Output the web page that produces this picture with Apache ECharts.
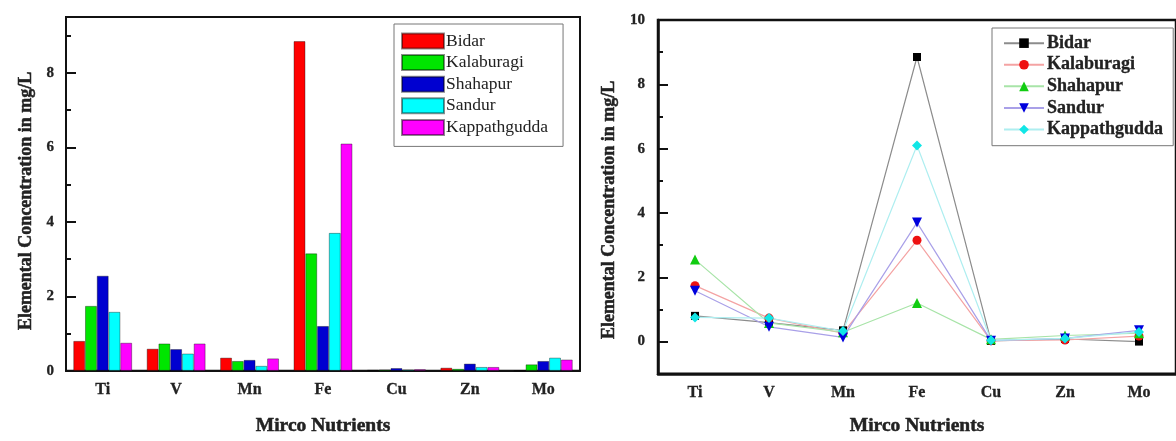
<!DOCTYPE html>
<html>
<head>
<meta charset="utf-8">
<script src="https://cdn.jsdelivr.net/npm/echarts@6/dist/echarts.min.js"></script>
<style>
  html, body { margin: 0; padding: 0; background: #fff; }
  #wrap { position: relative; width: 1176px; height: 441px; overflow: hidden; }
  #barChart { position: absolute; left: 0; top: 0; width: 590px; height: 441px; }
  #lineChart { position: absolute; left: 590px; top: 0; width: 586px; height: 441px; }
</style>
</head>
<body>
<div id="wrap">
  <div id="barChart"></div>
  <div id="lineChart"></div>
</div>
<script>
// micro nutrients (mg/L) per site
const nutrients = ['Ti', 'V', 'Mn', 'Fe', 'Cu', 'Zn', 'Mo']
const sites = ['Bidar', 'Kalaburagi', 'Shahapur', 'Sandur', 'Kappathgudda']
const bidar = [0.80, 0.59, 0.35, 8.85, 0.02, 0.08, 0.00]
const kalaburagi = [1.74, 0.73, 0.26, 3.15, 0.03, 0.05, 0.17]
const shahapur = [2.55, 0.58, 0.29, 1.20, 0.07, 0.19, 0.26]
const sandur = [1.58, 0.46, 0.13, 3.70, 0.03, 0.10, 0.35]
const kappathgudda = [0.75, 0.73, 0.33, 6.10, 0.04, 0.10, 0.30]

const leftMajor = [0, 2, 4, 6, 8]
const leftMinor = [1, 3, 5, 7, 9]
const rightMajor = [0, 2, 4, 6, 8, 10]
const rightMinor = [-1, 1, 3, 5, 7, 9]

const siteData = [bidar, kalaburagi, shahapur, sandur, kappathgudda]
const barColors = ['#ff0000', '#00e600', '#0000d0', '#00ffff', '#ff00ff']
const markColors = ['#000000', '#ee1111', '#11cc11', '#0000dd', '#11e6e6']
const lineColors = ['#8c8c8c', '#f4a3a3', '#a8e4a8', '#a9a0e8', '#aeeef0']
const markShapes = ['rect', 'circle', 'triangle', 'triangle', 'diamond']
const markRotate = [0, 0, 0, 180, 0]
const markSizes = [8, 9, 10, 10, 10]

const serif = '"Liberation Serif", "Times New Roman", serif'
// heavier bold like the scanned figure
const heavy = { fontFamily: serif, fontWeight: 'bold', color: '#222', textBorderColor: '#222', textBorderWidth: 0.5 }

// ---------- left: grouped bars ----------
const barChart = echarts.init(document.getElementById('barChart'))
barChart.setOption({
  animation: false,
  textStyle: { fontFamily: serif },
  grid: {
    left: 66, top: 17, right: 10, bottom: 67,
    show: true, borderColor: '#111', borderWidth: 2, backgroundColor: 'transparent'
  },
  legend: {
    left: 394, top: 24,
    orient: 'vertical',
    icon: 'rect',
    itemWidth: 42, itemHeight: 15, itemGap: 3.6,
    padding: [8, 15, 10, 7],
    borderColor: '#777', borderWidth: 1,
    textStyle: { fontFamily: serif, fontSize: 17.5, lineHeight: 18, color: '#222', padding: [0, 0, 0, -3] },
    data: sites
  },
  xAxis: {
    type: 'category',
    data: nutrients,
    boundaryGap: true,
    axisLine: { lineStyle: { color: '#111', width: 2 } },
    axisTick: { inside: true, length: 3, lineStyle: { color: '#111', width: 2 } },
    axisLabel: Object.assign({}, heavy, { fontSize: 16, margin: 11, textBorderWidth: 0.3 }),
    name: 'Mirco Nutrients',
    nameLocation: 'middle',
    nameGap: 45,
    nameTextStyle: Object.assign({}, heavy, { fontSize: 19.5 })
  },
  yAxis: [{
    type: 'value',
    min: 0, max: 9.5,
    axisLine: { show: true, lineStyle: { color: '#111', width: 2 } },
    axisTick: { show: true, inside: true, length: 10, customValues: leftMajor, lineStyle: { color: '#111', width: 2 } },
    axisLabel: Object.assign({}, heavy, { customValues: leftMajor, fontSize: 15, margin: 12, textBorderWidth: 0.3 }),
    splitLine: { show: false },
    name: 'Elemental Concentration in mg/L',
    nameLocation: 'middle',
    nameGap: 30,
    nameTextStyle: Object.assign({}, heavy, { fontSize: 18, padding: [0, 14, 0, 0] })
  }, {
    type: 'value',
    position: 'left',
    min: 0, max: 9.5,
    axisLine: { show: false },
    axisTick: { show: true, inside: true, length: 5, customValues: leftMinor, lineStyle: { color: '#111', width: 2 } },
    axisLabel: { show: false },
    splitLine: { show: false }
  }],
  series: sites.map((name, i) => ({
    name: name,
    type: 'bar',
    data: siteData[i],
    barGap: '0%',
    barCategoryGap: '20%',
    itemStyle: { color: barColors[i], borderColor: 'rgba(0,0,0,0.45)', borderWidth: 0.8 }
  }))
})

// ---------- right: point-line ----------
const lineChart = echarts.init(document.getElementById('lineChart'))
lineChart.setOption({
  animation: false,
  textStyle: { fontFamily: serif },
  grid: {
    left: 68, top: 20, right: -8, bottom: 62,
    show: true, borderColor: '#111', borderWidth: 2.5, backgroundColor: 'transparent'
  },
  legend: {
    left: 402, top: 28,
    orient: 'vertical',
    itemWidth: 40, itemHeight: 12, itemGap: 3.3,
    padding: [6, 10, 7, 11],
    borderColor: '#777', borderWidth: 1,
    textStyle: Object.assign({}, heavy, { fontSize: 18, lineHeight: 18, padding: [0, 0, 0, -2], textBorderWidth: 0.3 }),
    data: sites
  },
  xAxis: [{
    type: 'category',
    data: nutrients,
    boundaryGap: true,
    axisLine: { onZero: false, lineStyle: { color: '#111', width: 2.5 } },
    axisTick: { inside: true, alignWithLabel: true, length: 9, lineStyle: { color: '#111', width: 2 } },
    axisLabel: Object.assign({}, heavy, { fontSize: 16, margin: 11, textBorderWidth: 0.3 }),
    name: 'Mirco Nutrients',
    nameLocation: 'middle',
    nameGap: 42,
    nameTextStyle: Object.assign({}, heavy, { fontSize: 19.5 })
  }, {
    type: 'category',
    data: nutrients,
    position: 'bottom',
    boundaryGap: true,
    axisLine: { show: false, onZero: false },
    axisTick: { inside: true, length: 3, lineStyle: { color: '#111', width: 2 } },
    axisLabel: { show: false }
  }],
  yAxis: [{
    type: 'value',
    min: -1, max: 10,
    axisLine: { show: true, onZero: false, lineStyle: { color: '#111', width: 2.5 } },
    axisTick: { show: true, inside: true, length: 10, customValues: rightMajor, lineStyle: { color: '#111', width: 2 } },
    axisLabel: Object.assign({}, heavy, { customValues: rightMajor, fontSize: 15, margin: 13, textBorderWidth: 0.3 }),
    splitLine: { show: false },
    name: 'Elemental Concentration in mg/L',
    nameLocation: 'middle',
    nameGap: 40,
    nameTextStyle: Object.assign({}, heavy, { fontSize: 18, padding: [0, 26, 0, 0] })
  }, {
    type: 'value',
    position: 'left',
    min: -1, max: 10,
    axisLine: { show: false },
    axisTick: { show: true, inside: true, length: 5, customValues: rightMinor, lineStyle: { color: '#111', width: 2 } },
    axisLabel: { show: false },
    splitLine: { show: false }
  }],
  series: sites.map((name, i) => ({
    name: name,
    type: 'line',
    data: siteData[i],
    symbol: markShapes[i],
    symbolSize: markSizes[i],
    symbolRotate: markRotate[i],
    itemStyle: { color: markColors[i] },
    lineStyle: { color: lineColors[i], width: 1.2 }
  }))
})
</script>
</body>
</html>
